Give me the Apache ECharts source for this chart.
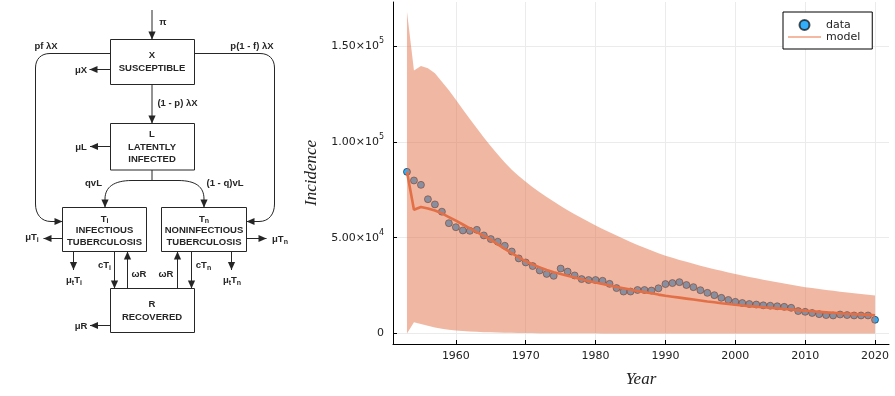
<!DOCTYPE html>
<html>
<head>
<meta charset="utf-8">
<script src="https://cdn.jsdelivr.net/npm/echarts@6/dist/echarts.min.js"></script>
<style>html,body{margin:0;padding:0;background:#fff}#c{width:895px;height:396px}</style>
</head>
<body>
<div id="c"></div>
<script>
// ---------- data ----------
const years = Array.from({length: 68}, (_, i) => 1953 + i);
const observed = [84400,79900,77600,70100,67400,63600,57600,55500,53800,53600,
  54100,51200,49300,47900,45800,42800,39200,37100,35200,32900,
  31100,30100,33900,32300,30300,28400,27900,27900,27500,25900,
  23700,21900,21900,22700,22700,22400,23600,25800,26300,26800,
  25300,24200,22600,21200,20000,18600,17500,16500,15900,15400,
  15100,14700,14500,14200,13900,13400,11700,11300,10700,10100,
  9600,9400,9900,9600,9400,9400,9400,7150];
const model = [84500,64600,66000,65300,64200,62700,60800,58900,56900,54900,
  52900,51000,49000,46500,44200,41900,39700,37700,36000,34500,
  33200,32000,31000,30100,29200,28300,27400,26600,25800,25000,
  24300,23600,22900,22200,21600,21000,20300,19700,19200,18700,
  18200,17700,17200,16700,16300,15800,15400,15000,14600,14300,
  14000,13700,13400,13100,12800,12500,12200,11900,11600,11300,
  11000,10800,10500,10300,10100,9900,9700,9500];
const bandUpper = [168000,137300,139700,138500,135900,131500,127000,122000,117000,112000,
  107200,102400,97800,93400,89300,85500,82200,79200,76400,73800,
  71300,68900,66600,64400,62300,60300,58300,56400,54600,52800,
  51100,49400,47800,46200,44800,43300,41900,40600,39500,38400,
  37400,36400,35400,34500,33600,32700,31800,31000,30250,29500,
  28800,28100,27400,26700,26100,25400,24800,24200,23700,23200,
  22700,22300,21800,21400,21000,20600,20200,19800];
const bandLower = [0,5900,5000,4000,3100,2500,2000,1600,1300,1050,
  850,700,580,480,400,330,280,230,200,170,
  140,120,100,90,80,70,60,50,45,40,
  35,30,25,20,20,20,20,20,20,20,
  20,20,20,20,20,20,20,10,10,10,
  10,10,10,10,10,10,10,10,10,10,
  10,10,10,10,10,10,10,10];
const xTicks = [1960,1970,1980,1990,2000,2010,2020];
const yTicks = [0,50000,100000,150000];

// ---------- diagram (graphic) ----------
const S = '#262626';
const FONT = 'Liberation Sans';
const els = [];
function box(x, y, w, h) {
  els.push({type:'rect', shape:{x:x, y:y, width:w, height:h}, style:{fill:'#fff', stroke:S, lineWidth:1}});
}
function pl(pts) {
  els.push({type:'polyline', shape:{points:pts}, style:{stroke:S, lineWidth:1, fill:null}});
}
function bez(x1, y1, c1x, c1y, c2x, c2y, x2, y2) {
  els.push({type:'bezierCurve', shape:{x1:x1, y1:y1, cpx1:c1x, cpy1:c1y, cpx2:c2x, cpy2:c2y, x2:x2, y2:y2}, style:{stroke:S, lineWidth:1, fill:null}});
}
function head(x, y, dir) {
  const L = 8, W = 3.6;
  let p;
  if (dir === 'd') p = [[x, y], [x - W, y - L], [x + W, y - L]];
  if (dir === 'u') p = [[x, y], [x - W, y + L], [x + W, y + L]];
  if (dir === 'l') p = [[x, y], [x + L, y - W], [x + L, y + W]];
  if (dir === 'r') p = [[x, y], [x - L, y - W], [x - L, y + W]];
  els.push({type:'polygon', shape:{points:p}, style:{fill:S}});
}
function arrow(x1, y1, x2, y2) {
  let dir;
  if (x1 === x2) dir = y2 > y1 ? 'd' : 'u'; else dir = x2 > x1 ? 'r' : 'l';
  pl([[x1, y1], [x2, y2]]);
  head(x2, y2, dir);
}
const rich = {
  b: {fontFamily: FONT, fontSize: 9.5, fontWeight: 'bold', fill: S, lineHeight: 12},
  s: {fontFamily: FONT, fontSize: 7, fontWeight: 'bold', fill: S, lineHeight: 6, verticalAlign: 'bottom'}
};
function txt(x, y, t, size) {
  els.push({type:'text', x: x, y: y, style:{text: t, align:'center', verticalAlign:'middle',
    fontFamily: FONT, fontSize: size || 9.5, fontWeight: 'bold', fill: S, rich: rich}});
}

// boxes
box(110.5, 39.5, 84, 45);
box(110.5, 123.5, 84, 46.5);
box(62.5, 207.5, 84, 44);
box(161.5, 207.5, 85, 44);
box(110.5, 288.5, 84, 44);
// arrows
arrow(152, 10, 152, 39.5);
arrow(110.5, 69.5, 89.5, 69.5);
arrow(152, 84.5, 152, 123.5);
arrow(110.5, 146.5, 90, 146.5);
pl([[152, 170], [152, 180.5]]);
bez(105, 199, 105, 187, 114, 180.5, 132, 180.5);
pl([[132, 180.5], [178, 180.5]]);
bez(178, 180.5, 196, 180.5, 204, 187, 204, 199);
arrow(105, 199, 105, 207.5);
arrow(204, 199, 204, 207.5);
// left loop
pl([[110.5, 53.5], [50, 53.5]]);
bez(50, 53.5, 41, 53.5, 35.5, 59, 35.5, 68);
pl([[35.5, 68], [35.5, 204]]);
bez(35.5, 204, 35.5, 214, 41, 221.5, 51, 221.5);
arrow(51, 221.5, 62.5, 221.5);
// right loop
pl([[194.5, 53.5], [260, 53.5]]);
bez(260, 53.5, 269, 53.5, 274.5, 59, 274.5, 68);
pl([[274.5, 68], [274.5, 204]]);
bez(274.5, 204, 274.5, 214, 269, 221.5, 259, 221.5);
arrow(259, 221.5, 246.5, 221.5);
// outflows
arrow(62.5, 238.5, 43.5, 238.5);
arrow(246.5, 238.5, 266.5, 238.5);
arrow(73.5, 251.5, 73.5, 270);
arrow(231.5, 251.5, 231.5, 270);
arrow(114.5, 251.5, 114.5, 288.5);
arrow(127.5, 288.5, 127.5, 251.5);
arrow(177.5, 288.5, 177.5, 251.5);
arrow(191.5, 251.5, 191.5, 288.5);
arrow(110.5, 325.5, 90, 325.5);
// texts
txt(163, 22, 'π');
txt(46, 46.5, 'pf λX');
txt(252, 46.5, 'p(1 - f) λX');
txt(152, 55.5, 'X');
txt(152, 68.5, 'SUSCEPTIBLE');
txt(81, 70, 'μX');
txt(177.5, 103.5, '(1 - p) λX');
txt(152, 134.5, 'L');
txt(152, 147, 'LATENTLY');
txt(152, 159.5, 'INFECTED');
txt(81, 147, 'μL');
txt(93.5, 183, 'qvL');
txt(225, 183, '(1 - q)vL');
txt(104.5, 219, '{b|T}{s|i}');
txt(104.5, 230.5, 'INFECTIOUS');
txt(104.5, 242.5, 'TUBERCULOSIS');
txt(204, 219, '{b|T}{s|n}');
txt(204, 230.5, 'NONINFECTIOUS');
txt(204, 242.5, 'TUBERCULOSIS');
txt(32, 237.5, '{b|μT}{s|i}');
txt(280, 239.5, '{b|μT}{s|n}');
txt(74, 280.5, '{b|μ}{s|t}{b|T}{s|i}');
txt(232, 280.5, '{b|μ}{s|t}{b|T}{s|n}');
txt(104.5, 265.5, '{b|cT}{s|i}');
txt(139, 274.5, 'ωR');
txt(166, 274.5, 'ωR');
txt(203.5, 265.5, '{b|cT}{s|n}');
txt(152, 304.5, 'R');
txt(152, 317, 'RECOVERED');
txt(81, 326, 'μR');

// ---------- chart ----------
function yFmt(v) {
  if (v === 0) return '{a|0}';
  const e = Math.floor(Math.log10(v));
  const m = (v / Math.pow(10, e)).toFixed(2);
  return '{a|' + m + '×10}{s|' + e + '}';
}
const pair = arr => years.map((y, i) => [y, arr[i]]);
const bandData = years.map((y, i) => [y, bandLower[i], bandUpper[i]]);

const chart = echarts.init(document.getElementById('c'), null, {renderer: 'canvas'});
chart.setOption({
  animation: false,
  backgroundColor: '#fff',
  graphic: {elements: els},
  grid: {left: 393, right: 6, top: 2, bottom: 52, containLabel: false},
  legend: {
    data: [
      {name: 'data', icon: 'circle'},
      {name: 'model', icon: 'path://M0,0H33V1.5H0Z', itemStyle: {color: '#F2A283'}}
    ],
    orient: 'vertical', left: 783, top: 12,
    itemWidth: 33, itemHeight: 10, itemGap: 0,
    padding: [7, 12, 6, 5],
    borderColor: '#000', borderWidth: 1, backgroundColor: '#fff', borderRadius: 0,
    selectedMode: false,
    textStyle: {fontFamily: 'DejaVu Sans', fontSize: 11, color: '#222', lineHeight: 12}
  },
  xAxis: {
    type: 'value', min: 1951, max: 2022,
    name: 'Year', nameLocation: 'middle', nameGap: 27,
    nameTextStyle: {fontFamily: 'Liberation Serif', fontStyle: 'italic', fontSize: 17, color: '#222'},
    axisLine: {show: true, onZero: false, lineStyle: {color: '#000', width: 1}},
    axisTick: {show: true, inside: true, length: 4, customValues: xTicks, lineStyle: {color: '#000'}},
    axisLabel: {customValues: xTicks, margin: 7, formatter: v => String(v), fontFamily: 'DejaVu Sans', fontSize: 11, color: '#222'},
    splitLine: {show: true, lineStyle: {color: '#ebebeb', width: 1}}
  },
  yAxis: {
    type: 'value', min: -5500, max: 173100,
    name: 'Incidence', nameLocation: 'middle', nameGap: 67,
    nameTextStyle: {fontFamily: 'Liberation Serif', fontStyle: 'italic', fontSize: 17, color: '#222'},
    axisLine: {show: true, onZero: false, lineStyle: {color: '#000', width: 1}},
    axisTick: {show: true, inside: true, length: 4, customValues: yTicks, lineStyle: {color: '#000'}},
    axisLabel: {
      customValues: yTicks, margin: 9, formatter: yFmt,
      rich: {
        a: {fontFamily: 'DejaVu Sans', fontSize: 11, color: '#222', lineHeight: 18, verticalAlign: 'middle'},
        s: {fontFamily: 'DejaVu Sans', fontSize: 8, color: '#222', lineHeight: 8, verticalAlign: 'top'}
      }
    },
    splitLine: {show: true, lineStyle: {color: '#ebebeb', width: 1}}
  },
  series: [
    {
      name: 'data', type: 'scatter', data: pair(observed), symbolSize: 7, z: 2,
      itemStyle: {color: '#009AF9', borderColor: 'rgba(0,0,0,0.85)', borderWidth: 0.8}
    },
    {
      name: 'band', type: 'custom', data: bandData, z: 3, silent: true,
      encode: {x: 0, y: [1, 2]},
      renderItem: function (params, api) {
        if (params.dataIndex !== 0) return null;
        const pts = [];
        for (let i = 0; i < bandData.length; i++) pts.push(api.coord([bandData[i][0], bandData[i][2]]));
        for (let i = bandData.length - 1; i >= 0; i--) pts.push(api.coord([bandData[i][0], bandData[i][1]]));
        return {type: 'polygon', shape: {points: pts}, style: {fill: '#E26F46', opacity: 0.5}};
      }
    },
    {
      name: 'model', type: 'line', data: pair(model), symbol: 'none', z: 4,
      lineStyle: {color: '#E26F46', width: 2.6}, itemStyle: {color: '#E26F46'}
    }
  ]
});
</script>
</body>
</html>
